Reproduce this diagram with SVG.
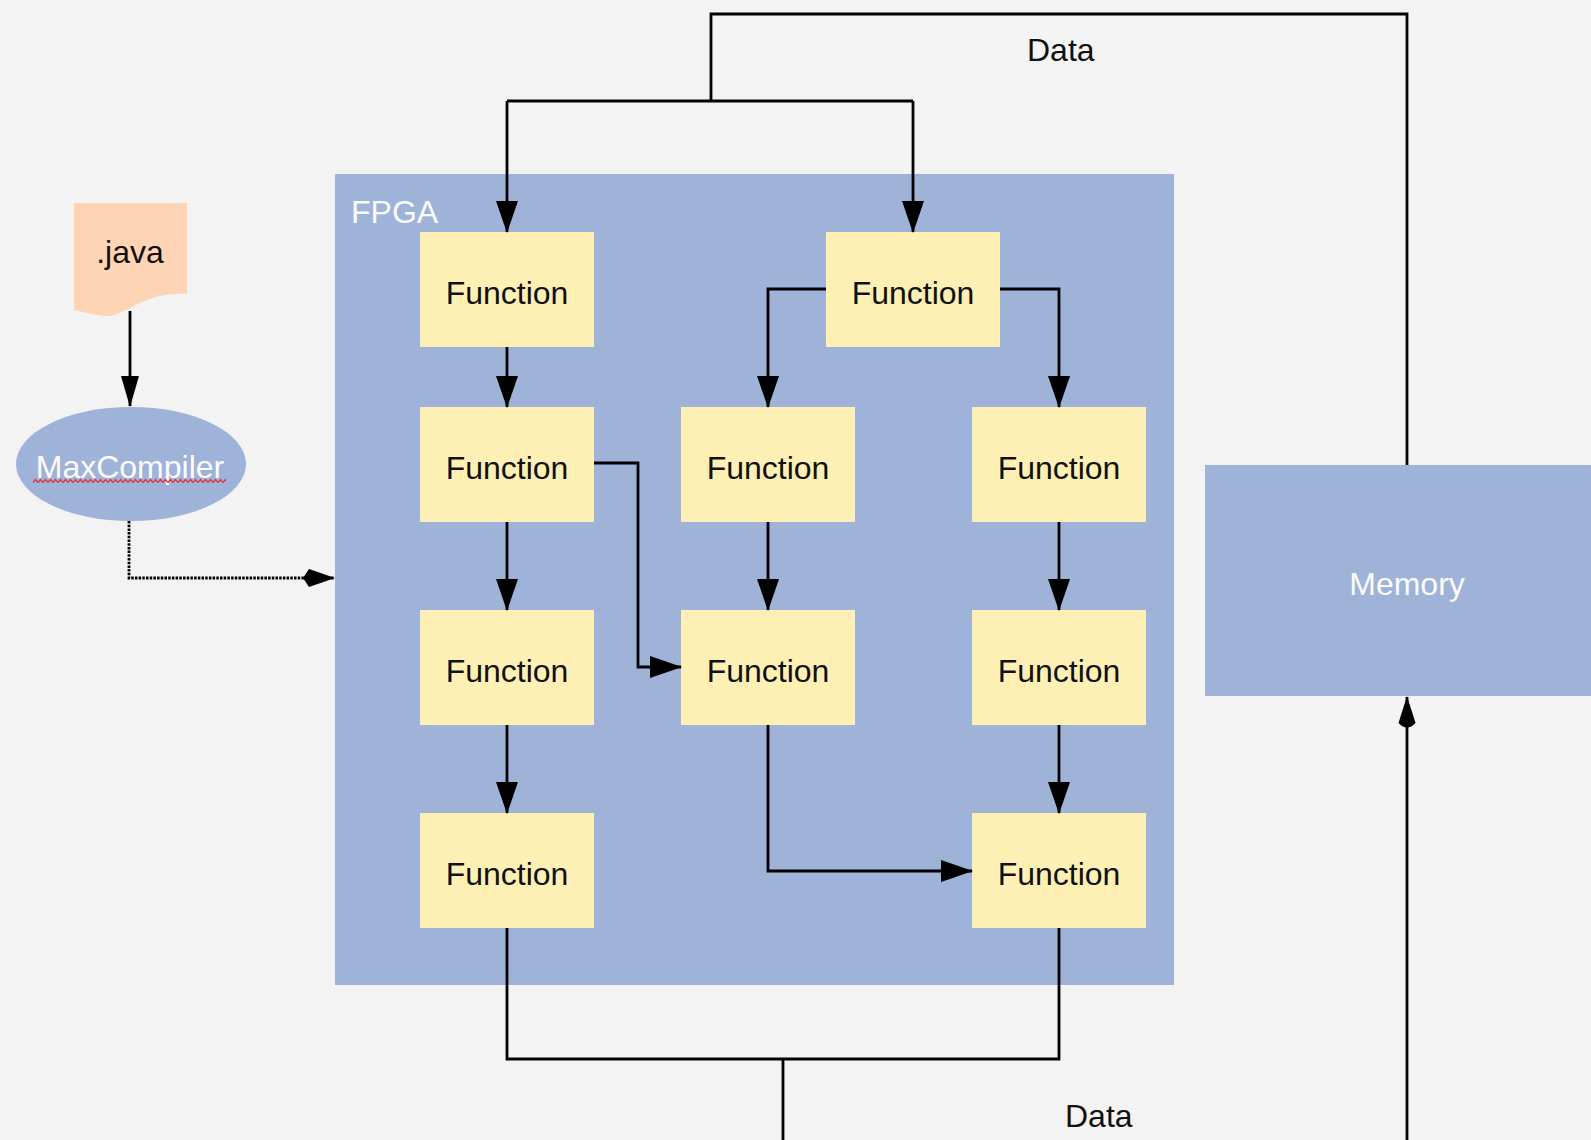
<svg xmlns="http://www.w3.org/2000/svg" width="1591" height="1140" viewBox="0 0 1591 1140">
  <style>
    .lbl { font-family: "Liberation Sans", Arial, Helvetica, sans-serif; font-size: 32px; }
    .fn rect { fill: #fef0b4; }
    .fn text { fill: #111; text-anchor: middle; }
    .blue { fill: #9fb3d9; }
    .wht { fill: #fbfbfb; }
    .wire { fill: none; stroke: #000; stroke-width: 2.8; stroke-linejoin: miter; }
    .arrow { marker-end: url(#ah); }
  </style>
  <defs>
    <marker id="ah" markerUnits="userSpaceOnUse" viewBox="0 0 32 22" markerWidth="32" markerHeight="22" refX="31" refY="11" orient="auto">
      <path d="M0,0 L32,11 L0,22 z" fill="#000"/>
    </marker>
    <marker id="ahs" markerUnits="userSpaceOnUse" viewBox="0 0 31 18" markerWidth="31" markerHeight="18" refX="30" refY="9" orient="auto">
      <path d="M0,0 L31,9 L0,18 z" fill="#000"/>
    </marker>
    <marker id="ahr" markerUnits="userSpaceOnUse" viewBox="0 0 33 18" markerWidth="33" markerHeight="18" refX="32" refY="9" orient="auto">
      <path d="M33,9 L6,0.5 Q-3,9 6,17.5 z" fill="#000"/>
    </marker>
    <marker id="ahd" markerUnits="userSpaceOnUse" viewBox="0 0 34 18" markerWidth="34" markerHeight="18" refX="33" refY="9" orient="auto">
      <path d="M34,9 L8,0 L2,9 L8,18 z" fill="#000"/>
    </marker>
    <!-- spell-check squiggle -->
    <pattern id="squiggle" patternUnits="userSpaceOnUse" x="33" y="478" width="5" height="6">
      <path d="M0,4.5 L2.5,1.5 L5,4.5" fill="none" stroke="#e0303a" stroke-width="1.3"/>
    </pattern>
  </defs>

  <!-- paper -->
  <rect width="1591" height="1140" fill="#f3f3f3"/>

  <!-- FPGA board -->
  <g id="fpga">
    <rect class="blue" x="335" y="174" width="839" height="811"/>
    <text class="lbl wht" x="351" y="223">FPGA</text>
  </g>

  <!-- Memory -->
  <g id="memory">
    <rect class="blue" x="1205" y="465" width="400" height="231"/>
    <text class="lbl wht" x="1407" y="595" text-anchor="middle">Memory</text>
  </g>

  <!-- source file -->
  <g id="java">
    <path d="M74,203 H187 V294 C168,293 152,297 138,304 C124,311 114,317 105,316 C94,315 84,312 74,310 Z" fill="#ffd4b4"/>
    <text class="lbl" x="130" y="263" text-anchor="middle" fill="#111">.java</text>
  </g>

  <!-- compiler -->
  <g id="maxcompiler">
    <ellipse class="blue" cx="131" cy="464" rx="115" ry="57"/>
    <text class="lbl wht" x="130" y="478" text-anchor="middle">MaxCompiler</text>
    <rect x="33" y="478" width="193" height="6" fill="url(#squiggle)"/>
  </g>

  <!-- function blocks -->
  <g id="f-top-left" class="fn lbl"><rect x="420" y="232" width="174" height="115"/><text x="507" y="304">Function</text></g>
  <g id="f-top-right" class="fn lbl"><rect x="826" y="232" width="174" height="115"/><text x="913" y="304">Function</text></g>
  <g id="f-r2-c1" class="fn lbl"><rect x="420" y="407" width="174" height="115"/><text x="507" y="479">Function</text></g>
  <g id="f-r2-c2" class="fn lbl"><rect x="681" y="407" width="174" height="115"/><text x="768" y="479">Function</text></g>
  <g id="f-r2-c3" class="fn lbl"><rect x="972" y="407" width="174" height="115"/><text x="1059" y="479">Function</text></g>
  <g id="f-r3-c1" class="fn lbl"><rect x="420" y="610" width="174" height="115"/><text x="507" y="682">Function</text></g>
  <g id="f-r3-c2" class="fn lbl"><rect x="681" y="610" width="174" height="115"/><text x="768" y="682">Function</text></g>
  <g id="f-r3-c3" class="fn lbl"><rect x="972" y="610" width="174" height="115"/><text x="1059" y="682">Function</text></g>
  <g id="f-r4-c1" class="fn lbl"><rect x="420" y="813" width="174" height="115"/><text x="507" y="885">Function</text></g>
  <g id="f-r4-c3" class="fn lbl"><rect x="972" y="813" width="174" height="115"/><text x="1059" y="885">Function</text></g>

  <!-- connectors -->
  <g id="connectors">
    <!-- data out of memory, fanned into the two entry blocks -->
    <path class="wire" stroke-width="2.2" d="M1407,465 V14 H711 V101"/>
    <path class="wire" d="M507,101 H913"/>
    <path class="wire arrow" stroke-width="2.2" d="M507,101 V232"/>
    <path class="wire arrow" d="M913,101 V232"/>

    <!-- toolchain -->
    <path class="wire" stroke-width="2.6" marker-end="url(#ahs)" d="M130,311 V406"/>
    <path class="wire" stroke-width="1.8" stroke-dasharray="2.5,1.2" marker-end="url(#ahd)" d="M129,521 V578 H334"/>

    <!-- left column -->
    <path class="wire arrow" d="M507,347 V407"/>
    <path class="wire arrow" d="M507,522 V610"/>
    <path class="wire arrow" d="M507,725 V813"/>
    <path class="wire arrow" d="M594,463 H638 V667 H681"/>

    <!-- right branch -->
    <path class="wire arrow" d="M826,289 H768 V407"/>
    <path class="wire arrow" d="M1000,289 H1059 V407"/>
    <path class="wire arrow" d="M768,522 V610"/>
    <path class="wire arrow" d="M1059,522 V610"/>
    <path class="wire arrow" d="M1059,725 V813"/>
    <path class="wire arrow" d="M768,725 V871 H972"/>

    <!-- results merged back out -->
    <path class="wire" d="M507,928 V1059 H1059 V928"/>
    <path class="wire" stroke-width="1.8" d="M783,1059 V1140"/>
    <path class="wire" stroke-width="1.8" marker-end="url(#ahr)" d="M1407,1140 V697"/>
  </g>

  <!-- bus labels -->
  <text class="lbl" x="1027" y="61" font-size="29" fill="#111">Data</text>
  <text class="lbl" x="1065" y="1127" font-size="29" fill="#111">Data</text>
</svg>
